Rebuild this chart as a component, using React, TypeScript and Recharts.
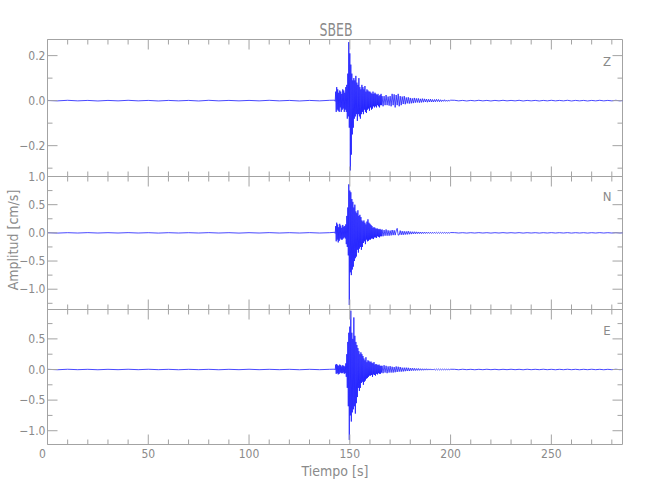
import React from 'react';
import { LineChart, Line, XAxis, YAxis, ReferenceLine } from 'recharts';

// ---------- time samples (s) ----------
const tPre = [0, 5, 10, 15, 20, 25, 30, 35, 40, 45, 50, 55, 60, 65, 70, 75, 80, 85, 90, 95, 100, 105, 110, 115, 120, 125, 130, 135, 140];
const tMain = [
  142.5, 142.75, 143, 143.25, 143.5, 143.75, 144, 144.25, 144.5, 144.75,
  145, 145.25, 145.5, 145.75, 146, 146.25, 146.5, 146.75, 147, 147.25,
  147.5, 147.75, 148, 148.25, 148.5, 148.75, 149, 149.25, 149.5, 149.75,
  150, 150.25, 150.5, 150.75, 151, 151.25, 151.5, 151.75, 152, 152.25,
  152.5, 152.75, 153, 153.25, 153.5, 153.75, 154, 154.25, 154.5, 154.75,
  155, 155.25, 155.5, 155.75, 156, 156.25, 156.5, 156.75, 157, 157.25,
  157.5, 157.75, 158, 158.25, 158.5, 158.75, 159, 159.25, 159.5, 159.75,
  160, 160.25, 160.5, 160.75, 161, 161.25, 161.5, 161.75, 162, 162.25,
  162.5, 162.75, 163, 163.25, 163.5, 163.75, 164, 164.25, 164.5, 164.75,
  165, 165.25, 165.5, 165.75, 166,
];
const tCoda = [
  166.5, 167, 167.5, 168, 168.5, 169, 169.5, 170,
  170.5, 171, 171.5, 172, 172.5, 173, 173.5, 174, 174.5, 175,
  175.5, 176, 176.5, 177, 177.5, 178, 178.5, 179, 179.5, 180,
  180.5, 181, 181.5, 182, 182.5, 183, 183.5, 184, 184.5, 185,
  185.5, 186, 186.5, 187, 187.5, 188, 188.5, 189, 189.5, 190,
  190.5, 191, 191.5, 192, 192.5, 193, 193.5, 194, 194.5, 195,
  195.5, 196, 196.5, 197, 197.5, 198, 198.5, 199, 199.5, 200,
];
const tTail = [
  202, 204, 206, 208, 210, 212, 214, 216, 218, 220,
  222, 224, 226, 228, 230, 232, 234, 236, 238, 240,
  242, 244, 246, 248, 250, 252, 254, 256, 258, 260,
  262, 264, 266, 268, 270, 272, 274, 276, 278, 280,
  282, 284, 286,
];

// ---------- Z component (cm/s) ----------
const zPre = [
  0.001, -0.001, 0.0015, -0.001, 0.001, -0.0015, 0.001, -0.001, 0.0015, -0.001,
  0.001, -0.0015, 0.001, -0.001, 0.001, -0.0015, 0.0015, -0.001, 0.001, -0.001,
  0.001, -0.001, 0.0015, -0.001, 0.001, -0.0015, 0.001, -0.001, 0.0015,
];
const zMain = [
  0.002, -0.003,
  0.04, -0.05, 0.06, -0.04,
  0.05, -0.045, 0.035, -0.05, 0.045, -0.03, 0.04, -0.05,
  0.03, -0.04, 0.05, -0.035, 0.045, -0.05, 0.035, -0.04,
  0.06, -0.05, 0.07, -0.08,
  0.12, -0.07, 0.26, -0.12, 0.21, -0.31, 0.16, -0.24, 0.12, -0.15, 0.09, -0.12,
  0.1, -0.08, 0.09, -0.07, 0.11, -0.06, 0.08, -0.09, 0.07, -0.06, 0.1, -0.07, 0.06, -0.08, 0.05, -0.06,
  0.07, -0.05, 0.06, -0.06, 0.05, -0.04, 0.065, -0.05, 0.04, -0.055, 0.05, -0.04, 0.045, -0.035, 0.04, -0.045,
  0.04, -0.03, 0.035, -0.04, 0.03, -0.035, 0.04, -0.025, 0.03, -0.03, 0.035, -0.025, 0.03, -0.03, 0.025, -0.02,
  0.03, -0.025, 0.02, -0.03, 0.025, -0.02, 0.03, -0.02, 0.02,
];
const zCoda = [
  -0.025, 0.02, -0.02, 0.025, -0.02, 0.018, -0.022, 0.02,
  -0.025, 0.03, -0.02, 0.028, -0.03, 0.025, -0.02, 0.03, -0.025, 0.02,
  -0.02, 0.018, -0.015, 0.02, -0.016, 0.014, -0.012, 0.015, -0.013, 0.012,
  -0.012, 0.01, -0.011, 0.012, -0.009, 0.01, -0.008, 0.01, -0.009, 0.008,
  -0.008, 0.009, -0.007, 0.008, -0.006, 0.007, -0.007, 0.006, -0.006, 0.007,
  -0.006, 0.005, -0.006, 0.005, -0.005, 0.006, -0.004, 0.005, -0.005, 0.004,
  -0.004, 0.003, -0.003, 0.004, -0.003, 0.002, -0.003, 0.003, -0.002, 0.002,
];
const zTail = [
  0.0015, -0.001, 0.001, -0.0015, 0.001, -0.001, 0.0015, -0.001, 0.001, -0.0015,
  0.001, -0.001, 0.0015, -0.001, 0.001, -0.001, 0.0015, -0.0015, 0.001, -0.001,
  0.001, -0.0015, 0.001, -0.001, 0.0015, -0.001, 0.001, -0.001, 0.0015, -0.0015,
  0.001, -0.001, 0.001, -0.0015, 0.001, -0.001, 0.0015, -0.001, 0.001, -0.001,
  0.0015, -0.001, 0.001,
];

// ---------- N component ----------
const nPre = [
  0.003, -0.004, 0.003, -0.003, 0.004, -0.003, 0.003, -0.003, 0.004, -0.003,
  0.003, -0.004, 0.003, -0.003, 0.003, -0.003, 0.004, -0.003, 0.003, -0.004,
  0.003, -0.003, 0.004, -0.003, 0.003, -0.003, 0.004, -0.003, 0.003,
];
const nMain = [
  0.01, -0.01,
  0.12, -0.15, 0.18, -0.12,
  0.15, -0.17, 0.1, -0.14, 0.16, -0.1, 0.13, -0.12,
  0.09, -0.12, 0.14, -0.1, 0.11, -0.08, 0.12, -0.1,
  0.15, -0.2, 0.3, -0.25,
  0.45, -0.4, 0.86, -1.28, 0.75, -0.7, 0.72, -0.75, 0.6, -0.65, 0.55, -0.6,
  0.45, -0.5, 0.5, -0.45, 0.38, -0.42, 0.35, -0.3, 0.4, -0.35, 0.3, -0.28, 0.32, -0.25, 0.28, -0.3,
  0.22, -0.25, 0.2, -0.18, 0.22, -0.15, 0.18, -0.2, 0.15, -0.12, 0.2, -0.15, 0.24, -0.14, 0.18, -0.12,
  0.16, -0.12, 0.14, -0.1, 0.12, -0.1, 0.09, -0.11, 0.1, -0.08, 0.09, -0.08, 0.07, -0.09, 0.08, -0.06,
  0.07, -0.07, 0.06, -0.08, 0.07, -0.06, 0.05, -0.06, 0.06,
];
const nCoda = [
  -0.06, 0.05, -0.05, 0.06, -0.05, 0.045, -0.05, 0.04,
  -0.045, 0.05, -0.04, 0.045, -0.04, 0.035, 0.08, -0.04, -0.035, 0.04,
  -0.035, 0.03, -0.035, 0.028, -0.03, 0.025, -0.028, 0.03, -0.025, 0.022,
  -0.022, 0.02, -0.018, 0.02, -0.017, 0.018, -0.015, 0.016, -0.014, 0.015,
  -0.014, 0.013, -0.012, 0.013, -0.011, 0.012, -0.01, 0.011, -0.01, 0.01,
  -0.01, 0.009, -0.009, 0.01, -0.008, 0.009, -0.008, 0.008, -0.007, 0.008,
  -0.007, 0.007, -0.006, 0.007, -0.006, 0.006, -0.006, 0.005, -0.005, 0.005,
];
const nTail = [
  0.004, -0.003, 0.003, -0.004, 0.003, -0.003, 0.004, -0.003, 0.003, -0.004,
  0.003, -0.003, 0.004, -0.003, 0.003, -0.003, 0.004, -0.004, 0.003, -0.003,
  0.003, -0.004, 0.003, -0.003, 0.004, -0.003, 0.003, -0.003, 0.004, -0.004,
  0.003, -0.003, 0.003, -0.004, 0.003, -0.003, 0.004, -0.003, 0.003, -0.003,
  0.004, -0.003, 0.003,
];

// ---------- E component ----------
const ePre = [
  0.003, -0.004, 0.004, -0.003, 0.003, -0.004, 0.003, -0.003, 0.004, -0.003,
  0.004, -0.003, 0.003, -0.004, 0.003, -0.003, 0.003, -0.004, 0.003, -0.003,
  0.004, -0.003, 0.003, -0.003, 0.003, -0.004, 0.003, -0.003, 0.003,
];
const eMain = [
  0.005, -0.006,
  0.08, -0.07, 0.09, -0.06,
  0.07, -0.08, 0.06, -0.07, 0.08, -0.05, 0.07, -0.06,
  0.05, -0.06, 0.07, -0.05, 0.06, -0.07, 0.05, -0.06,
  0.1, -0.12, 0.25, -0.3,
  0.45, -0.6, 0.6, -1.15, 0.7, -0.75, 0.96, -0.85, 0.6, -0.7, 0.5, -0.65,
  0.85, -0.6, 0.55, -0.72, 0.45, -0.55, 0.4, -0.45, 0.35, -0.3, 0.3, -0.35, 0.25, -0.3, 0.28, -0.22,
  0.25, -0.2, 0.22, -0.25, 0.18, -0.2, 0.15, -0.18, 0.2, -0.15, 0.12, -0.14, 0.15, -0.12, 0.14, -0.1,
  0.12, -0.1, 0.13, -0.09, 0.11, -0.12, 0.1, -0.08, 0.12, -0.09, 0.08, -0.1, 0.09, -0.07, 0.08, -0.08,
  0.07, -0.06, 0.08, -0.07, 0.06, -0.07, 0.06, -0.05, 0.06,
];
const eCoda = [
  -0.06, 0.07, -0.05, 0.06, -0.06, 0.05, -0.05, 0.055,
  -0.05, 0.045, -0.05, 0.04, -0.045, 0.05, -0.04, 0.045, -0.035, 0.04,
  -0.035, 0.03, -0.032, 0.03, -0.028, 0.03, -0.025, 0.028, -0.025, 0.022,
  -0.02, 0.022, -0.018, 0.02, -0.017, 0.016, -0.015, 0.017, -0.014, 0.013,
  -0.013, 0.012, -0.012, 0.011, -0.01, 0.012, -0.01, 0.01, -0.009, 0.01,
  -0.009, 0.008, -0.009, 0.008, -0.008, 0.007, -0.007, 0.008, -0.007, 0.006,
  -0.006, 0.006, -0.005, 0.006, -0.005, 0.005, -0.004, 0.005, -0.004, 0.004,
];
const eTail = [
  0.003, -0.004, 0.004, -0.003, 0.003, -0.004, 0.003, -0.003, 0.004, -0.003,
  0.003, -0.004, 0.003, -0.003, 0.004, -0.003, 0.003, -0.004, 0.004, -0.003,
  0.003, -0.003, 0.004, -0.003, 0.003, -0.004, 0.003, -0.003, 0.004, -0.003,
  0.003, -0.004, 0.003, -0.003, 0.004, -0.003, 0.003, -0.004, 0.003, -0.003,
  0.004, -0.003, 0.003,
];

// ---------- axes ----------
const xTicks = [0, 10, 20, 30, 40, 50, 60, 70, 80, 90, 100, 110, 120, 130, 140, 150, 160, 170, 180, 190, 200, 210, 220, 230, 240, 250, 260, 270, 280];
const xMajor = [0, 50, 100, 150, 200, 250];
const xDomain: [number, number] = [0, 285.3];

const zTicks = [-0.3, -0.2, -0.1, 0, 0.1, 0.2];
const zMajor = [-0.2, 0, 0.2];
const zDomain: [number, number] = [-0.337, 0.2716];

const nTicks = [-1.25, -1, -0.75, -0.5, -0.25, 0, 0.25, 0.5, 0.75, 1];
const nMajor = [-1, -0.5, 0, 0.5, 1];
const nDomain: [number, number] = [-1.36, 1.0];

const eTicks = [-1, -0.75, -0.5, -0.25, 0, 0.25, 0.5, 0.75];
const eMajor = [-1, -0.5, 0, 0.5];
const eDomain: [number, number] = [-1.225, 0.98];

const times = [...tPre, ...tMain, ...tCoda, ...tTail];
const zVals = [...zPre, ...zMain, ...zCoda, ...zTail];
const nVals = [...nPre, ...nMain, ...nCoda, ...nTail];
const eVals = [...ePre, ...eMain, ...eCoda, ...eTail];
const rows = times.map((t, i) => ({ t, z: zVals[i], n: nVals[i], e: eVals[i] }));

// ---------- style / layout ----------
const W = 650;
const H = 500;
const LEFT = 47.5;
const RIGHT = 622.5;
const AXIS = '#a3a3a3';
const TEXT = '#8a8a8a';
const TRACE = '#1a1aff';
const FONT = "'Liberation Sans Narrow','DejaVu Sans Condensed','Roboto Condensed','Liberation Sans',sans-serif";

const fmt = (v: number) => {
  const s = Math.abs(v).toFixed(1);
  return v < -1e-9 ? '\u2212' + s : s;
};
const isIn = (arr: number[], v: number) => arr.some((m) => Math.abs(m - v) < 1e-9);

const makeXTick = (top: number, labels: boolean) => (props: any) => {
  const { x, y, payload } = props;
  const v = payload.value;
  const major = isIn(xMajor, v);
  const len = major ? 10 : 5;
  return (
    <g>
      <line x1={x} y1={y} x2={x} y2={y - len} stroke={AXIS} strokeWidth={1} />
      <line x1={x} y1={top} x2={x} y2={top + len} stroke={AXIS} strokeWidth={1} />
      {labels && major ? (
        <text x={v === 0 ? x - 5 : x} y={y + 13} textAnchor="middle" fontSize={12} fill={TEXT} fontFamily={FONT}>
          {String(v)}
        </text>
      ) : null}
    </g>
  );
};

const makeYTick = (majors: number[]) => (props: any) => {
  const { x, y, payload } = props;
  const v = payload.value;
  const major = isIn(majors, v);
  const len = major ? 10 : 5;
  return (
    <g>
      <line x1={x} y1={y} x2={x + len} y2={y} stroke={AXIS} strokeWidth={1} />
      <line x1={RIGHT} y1={y} x2={RIGHT - len} y2={y} stroke={AXIS} strokeWidth={1} />
      {major ? (
        <text x={x - 2} y={y + 4} textAnchor="end" fontSize={12} fill={TEXT} fontFamily={FONT}>
          {fmt(v)}
        </text>
      ) : null}
    </g>
  );
};

type PanelProps = {
  top: number;
  bottom: number;
  dataKey: string;
  domain: [number, number];
  ticks: number[];
  majors: number[];
  labels: boolean;
};

function Panel({ top, bottom, dataKey, domain, ticks, majors, labels }: PanelProps) {
  return (
    <div style={{ position: 'absolute', left: 0, top: 0 }}>
      <LineChart
        width={W}
        height={H}
        data={rows}
        margin={{ top, bottom: H - bottom - 1, left: LEFT - 1, right: W - RIGHT }}
      >
        <XAxis
          xAxisId="x"
          dataKey="t"
          type="number"
          domain={xDomain}
          allowDataOverflow
          ticks={xTicks}
          interval={0}
          height={1}
          tickSize={0}
          tickMargin={0}
          axisLine={{ stroke: AXIS }}
          tickLine={false}
          tick={makeXTick(top, labels)}
        />
        <YAxis
          yAxisId="y"
          type="number"
          domain={domain}
          allowDataOverflow
          ticks={ticks}
          interval={0}
          width={1}
          tickSize={0}
          tickMargin={0}
          axisLine={{ stroke: AXIS }}
          tickLine={false}
          tick={makeYTick(majors)}
        />
        <ReferenceLine xAxisId="x" yAxisId="y" y={domain[1]} stroke={AXIS} />
        <ReferenceLine xAxisId="x" yAxisId="y" x={xDomain[1]} stroke={AXIS} />
        <Line
          xAxisId="x"
          yAxisId="y"
          dataKey={dataKey}
          type="linear"
          stroke={TRACE}
          strokeWidth={0.8}
          dot={false}
          activeDot={false}
          isAnimationActive={false}
        />
      </LineChart>
    </div>
  );
}

export default function App() {
  return (
    <div style={{ position: 'absolute', left: 0, top: 0, width: W, height: H, background: '#fff' }}>
      <Panel top={39.5} bottom={176.5} dataKey="z" domain={zDomain} ticks={zTicks} majors={zMajor} labels={false} />
      <Panel top={176.5} bottom={309.5} dataKey="n" domain={nDomain} ticks={nTicks} majors={nMajor} labels={false} />
      <Panel top={309.5} bottom={444.5} dataKey="e" domain={eDomain} ticks={eTicks} majors={eMajor} labels={true} />
      <svg width={W} height={H} style={{ position: 'absolute', left: 0, top: 0, pointerEvents: 'none' }}>
        <text x={336} y={36} textAnchor="middle" fontSize={18} fill={TEXT} fontFamily={FONT} textLength={33} lengthAdjust="spacingAndGlyphs">
          SBEB
        </text>
        <text x={335} y={476} textAnchor="middle" fontSize={14} fill={TEXT} fontFamily={FONT}>
          Tiempo [s]
        </text>
        <text transform="translate(18,240) rotate(-90)" textAnchor="middle" fontSize={14} fill={TEXT} fontFamily={FONT}>
          Amplitud [cm/s]
        </text>
        <text x={607} y={66} textAnchor="middle" fontSize={13} fill={TEXT} fontFamily={FONT}>Z</text>
        <text x={607} y={201} textAnchor="middle" fontSize={13} fill={TEXT} fontFamily={FONT}>N</text>
        <text x={607} y={335} textAnchor="middle" fontSize={13} fill={TEXT} fontFamily={FONT}>E</text>
      </svg>
    </div>
  );
}
